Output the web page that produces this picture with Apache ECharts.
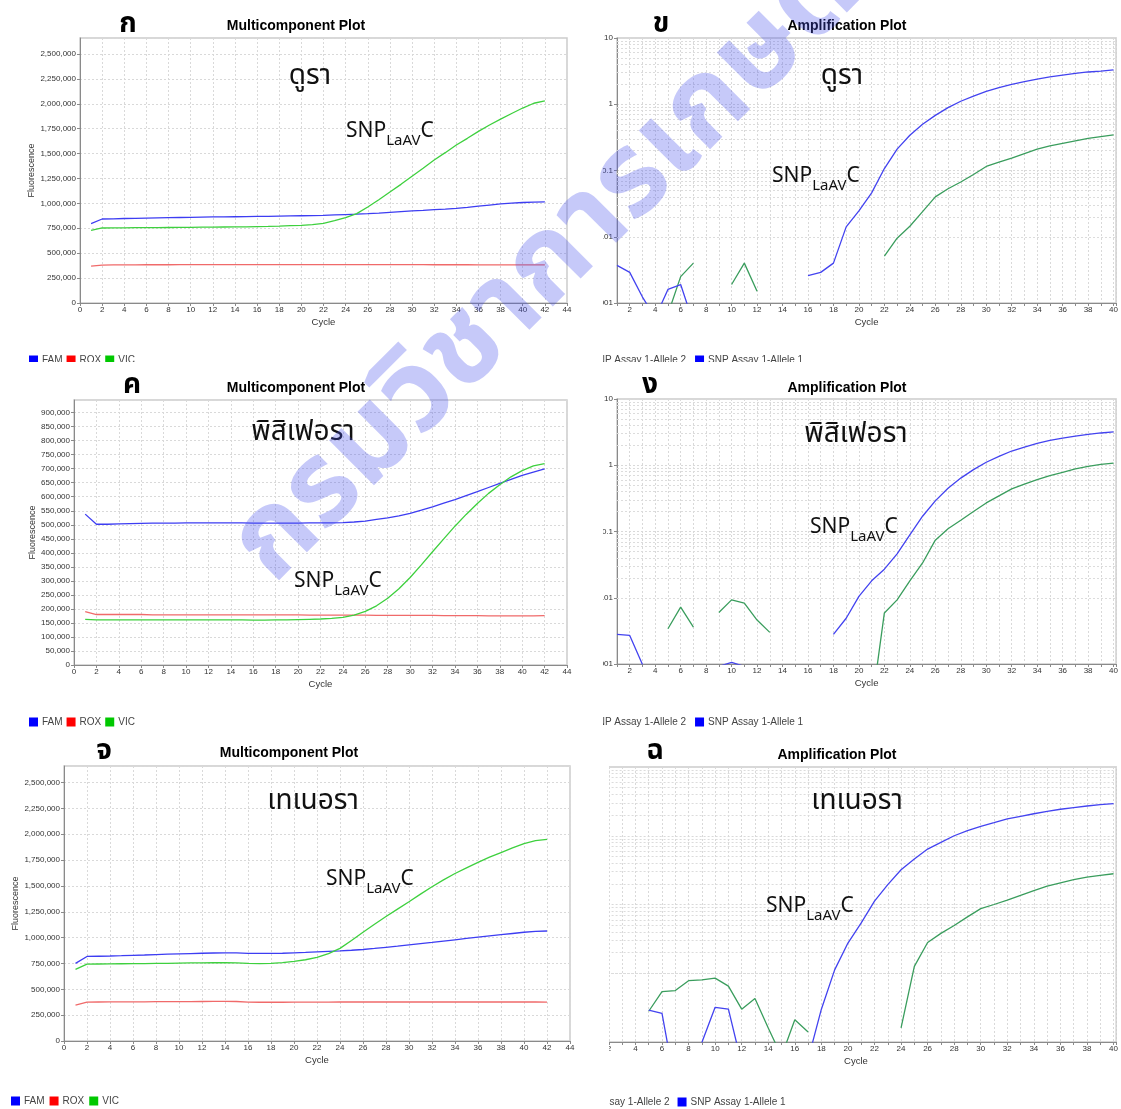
<!DOCTYPE html>
<html><head><meta charset="utf-8">
<script src="https://cdn.jsdelivr.net/npm/echarts@6.0.0/dist/echarts.min.js"></script>
<style>html,body{margin:0;padding:0;background:#fff}#c{width:1121px;height:1109px}</style>
</head><body><div id="c"></div>
<script>
// ---------- data ----------
const mcCycles = [1,2,3,4,5,6,7,8,9,10,11,12,13,14,15,16,17,18,19,20,21,22,23,24,25,26,27,28,29,30,31,32,33,34,35,36,37,38,39,40,41,42];
const ampCycles = [1,2,3,4,5,6,7,8,9,10,11,12,13,14,15,16,17,18,19,20,21,22,23,24,25,26,27,28,29,30,31,32,33,34,35,36,37,38,39,40];
const mcXTicks = [0,2,4,6,8,10,12,14,16,18,20,22,24,26,28,30,32,34,36,38,40,42,44];
const logMajorTicks = [0.001,0.01,0.1,1,10];
const logMinorTicks = [0.002,0.003,0.004,0.005,0.006,0.007,0.008,0.009,
  0.02,0.03,0.04,0.05,0.06,0.07,0.08,0.09,
  0.2,0.3,0.4,0.5,0.6,0.7,0.8,0.9,
  2,3,4,5,6,7,8,9];

// Panel ก (Dura) multicomponent
const famA = [797000,843000,845000,848000,850000,852000,854000,856000,858000,860000,862000,864000,865000,866000,867000,869000,870000,872000,874000,876000,878000,880000,884000,888000,892000,897000,903000,910000,917000,924000,930000,937000,943000,950000,960000,972000,983000,994000,1003000,1009000,1013000,1015000];
const roxA = [371000,381000,382000,383000,383000,384000,384000,384000,385000,385000,385000,386000,
  386000,386000,386000,386000,386000,386000,386000,386000,386000,386000,386000,386000,386000,386000,386000,
  385000,385000,385000,385000,384000,384000,384000,384000,383000,383000,383000,382000,382000,382000,382000];
const vicA = [730000,753000,754000,755000,756000,757000,757000,758000,759000,760000,761000,762000,763000,764000,765000,767000,769000,772000,776000,780000,787000,800000,826000,857000,897000,964000,1037000,1114000,1191000,1272000,1352000,1436000,1509000,1586000,1653000,1723000,1787000,1846000,1902000,1957000,2005000,2030000];

// Panel ค (Pisifera) multicomponent
const famC = [538000,502000,502000,503000,504000,505000,506000,506000,506000,507000,507000,507000,507000,507000,507000,506000,506000,506000,506000,506000,507000,507000,507000,508000,510000,513000,519000,525000,532000,541000,552000,564000,577000,590000,604000,618000,633000,648000,662000,676000,688000,699000];
const roxC = [190000,180000,180000,180000,180000,180000,
  179000,179000,179000,179000,179000,179000,179000,179000,179000,179000,179000,179000,179000,179000,
  178000,178000,178000,178000,178000,178000,
  177000,177000,177000,177000,177000,177000,
  176000,176000,176000,176000,
  175000,175000,175000,175000,175000,176000];
const vicC = [163000,
  161000,161000,161000,161000,161000,161000,161000,161000,161000,161000,161000,161000,161000,161000,
  160000,160000,161000,161000,162000,163000,164000,166000,170000,178000,191000,211000,238000,272000,312000,357000,404000,450000,495000,537000,576000,612000,643000,671000,693000,710000,718000];

// Panel จ (Tenera) multicomponent
const famE = [751000,818000,820000,822000,825000,829000,832000,836000,840000,843000,846000,849000,851000,853000,853000,848000,847000,847000,849000,853000,857000,862000,867000,872000,878000,885000,895000,906000,917000,929000,941000,953000,966000,979000,992000,1004000,1016000,1028000,1040000,1052000,1061000,1064000];
const roxE = [348000,376000,377000,378000,378000,379000,379000,380000,380000,381000,381000,382000,383000,383000,382000,
  376000,375000,375000,375000,376000,376000,376000,376000,
  377000,377000,377000,377000,377000,377000,377000,377000,377000,377000,377000,377000,377000,377000,377000,377000,377000,377000,
  376000];
const vicE = [693000,744000,745000,746000,747000,748000,749000,750000,751000,753000,755000,756000,757000,758000,756000,751000,748000,751000,759000,771000,786000,808000,845000,896000,972000,1052000,1130000,1205000,1276000,1347000,1421000,1492000,1559000,1620000,1675000,1727000,1778000,1823000,1868000,1910000,1939000,1950000];

// Amplification (delta Rn, log) — null = not plotted
const al1B = [0.0037,0.0029,0.00123,0.0006,0.0016,0.0019,0.0005,null,null,null,null,null,null,null,null,
  0.0026,0.0029,0.0040,0.0141,0.0245,0.046,0.107,0.21,0.34,0.50,0.68,0.89,1.11,1.33,1.57,1.78,2.0,2.19,2.4,2.58,2.76,2.93,3.07,3.17,3.3];
const al2B = [null,null,null,null,0.00068,0.0025,0.0040,null,null,0.0019,0.0040,0.0015,
  null,null,null,null,null,null,null,null,null,
  0.0051,0.0095,0.0144,0.024,0.040,0.053,0.067,0.087,0.115,0.134,0.154,0.18,0.21,0.235,0.257,0.28,0.305,0.325,0.345];
const al1D = [0.0028,0.0027,0.00098,null,null,null,null,null,0.00092,0.00106,0.00092,null,null,null,null,null,null,
  0.0028,0.0049,0.0105,0.018,0.027,0.046,0.089,0.17,0.29,0.45,0.64,0.86,1.11,1.36,1.64,1.88,2.14,2.38,2.57,2.76,2.93,3.07,3.18];
const al2D = [null,null,null,null,0.0034,0.0072,0.0036,null,0.0060,0.0093,0.0083,0.0046,0.0030,
  null,null,null,null,null,null,null,
  0.00023,0.0059,0.0093,0.018,0.0335,0.074,0.11,0.148,0.20,0.27,0.345,0.44,0.52,0.605,0.70,0.78,0.88,0.96,1.03,1.08];
const al1F = [null,null,null,null,0.0029,0.0026,0.00023,null,0.00098,0.0032,0.0030,0.00048,null,null,null,null,
  0.00056,0.0030,0.0112,0.0275,0.054,0.112,0.195,0.32,0.46,0.64,0.80,1.0,1.19,1.37,1.55,1.76,1.92,2.09,2.27,2.43,2.57,2.71,2.84,2.93];
const al2F = [null,null,null,null,0.0028,0.0054,0.0056,0.0078,0.0080,0.0085,0.0065,0.0030,0.0043,0.0016,0.00062,0.0021,0.0014,
  null,null,null,null,null,null,
  0.0016,0.0126,0.028,0.038,0.0495,0.066,0.087,0.10,0.116,0.136,0.159,0.185,0.207,0.23,0.25,0.266,0.28];

const mcNames = ['FAM','ROX','VIC'];
const ampNames = ['SNP Assay 1-Allele 2','SNP Assay 1-Allele 1'];
const panelLetters = ['ก','ข','ค','ง','จ','ฉ'];
const sampleNames = ['ดูรา','ดูรา','พิสิเฟอรา','พิสิเฟอรา','เทเนอรา','เทเนอรา'];
const watermarkText = 'กรมวิชาการเกษตร';

// ---------- chart ----------
const BASE = 'Liberation Sans, Arial, sans-serif';
const THAI = 'Noto Sans Thai, Noto Sans Thai UI, Loma, Garuda, Noto Sans, DejaVu Sans, sans-serif';
const LEG = {FAM:'#0000ff', ROX:'#ff0000', VIC:'#00c800', 'SNP Assay 1-Allele 1':'#0000ff', 'SNP Assay 1-Allele 2':'#2e9a57'};
const LINE = {FAM:'#3d3df2', ROX:'#f06a6a', VIC:'#3ed03e', 'SNP Assay 1-Allele 1':'#4343f0', 'SNP Assay 1-Allele 2':'#3a9d5d'};

const pairs = (xs, ys) => xs.map((x, i) => [x, ys[i] == null ? '-' : ys[i]]);

const grids = [
  {left:80, top:38, width:487, height:265},
  {left:617, top:38, width:503.6, height:265},
  {left:74, top:400, width:493, height:265},
  {left:617, top:399, width:503.6, height:265},
  {left:64, top:766, width:506, height:275},
  {left:595.6, top:767, width:525, height:275}
].map(g => Object.assign({show:true, borderColor:'#cccccc', borderWidth:1.5, backgroundColor:'#fff'}, g));

const gridLine = {show:true, lineStyle:{color:'#d9d9d9', type:[2,2], width:1}};
const axLine = {show:true, onZero:false, lineStyle:{color:'#8a8a8a'}};
const axTick = {show:true, length:3, lineStyle:{color:'#8a8a8a'}};
const lbl = {fontSize:8, color:'#333', fontFamily:BASE};
const fmtNum = v => Number(v).toLocaleString('en-US');
const fmtLog = v => String(+Number(v).toPrecision(3));

function mcX(g){ return {type:'value', gridIndex:g, min:mcXTicks[0], max:mcXTicks[mcXTicks.length-1], interval:2,
  name:'Cycle', nameLocation:'middle', nameGap:14, nameTextStyle:{fontSize:9.5,color:'#333',fontFamily:BASE},
  axisLine:axLine, axisTick:axTick, axisLabel:Object.assign({margin:3}, lbl), splitLine:gridLine}; }
function mcY(g, max, interval, gap){ return {type:'value', gridIndex:g, min:0, max:max, interval:interval,
  name:'Fluorescence', nameLocation:'middle', nameGap:gap, nameTextStyle:{fontSize:9,color:'#333',fontFamily:BASE},
  axisLine:axLine, axisTick:axTick, axisLabel:Object.assign({margin:4, formatter:fmtNum, showMaxLabel:false}, lbl), splitLine:gridLine}; }
function ampX(g){ return {type:'value', gridIndex:g, min:1, max:40.2, interval:1,
  name:'Cycle', nameLocation:'middle', nameGap:14, nameTextStyle:{fontSize:9.5,color:'#333',fontFamily:BASE},
  axisLine:axLine, axisTick:axTick, axisLabel:Object.assign({margin:3, formatter: v => (v % 2 === 0 ? String(v) : '')}, lbl), splitLine:gridLine}; }
function ampY(g, showLabels){ return {type:'log', logBase:10, gridIndex:g, min:logMajorTicks[0], max:logMajorTicks[logMajorTicks.length-1], splitNumber:4,
  axisLine:axLine, axisTick:axTick, axisLabel:Object.assign({show:showLabels, margin:4, formatter:fmtLog}, lbl), splitLine:gridLine}; }

function line(name, g, xs, ys, extra){
  return Object.assign({name, type:'line', xAxisIndex:g, yAxisIndex:g, data:pairs(xs, ys), showSymbol:false, symbol:'none',
    clip:true, z:3, lineStyle:{width:1.3, color:LINE[name]}, itemStyle:{color:LEG[name]}, emphasis:{disabled:true}}, extra||{});
}
const minorMark = {silent:true, symbol:'none', animation:false, z:1, label:{show:false},
  lineStyle:{color:'#dcdcdc', type:[2,2], width:1}, emphasis:{disabled:true}, data: logMinorTicks.map(v => ({yAxis:v}))};

const series = [
  line('FAM',0,mcCycles,famA), line('ROX',0,mcCycles,roxA), line('VIC',0,mcCycles,vicA),
  line('SNP Assay 1-Allele 2',1,ampCycles,al2B), line('SNP Assay 1-Allele 1',1,ampCycles,al1B,{markLine:minorMark}),
  line('FAM',2,mcCycles,famC), line('ROX',2,mcCycles,roxC), line('VIC',2,mcCycles,vicC),
  line('SNP Assay 1-Allele 2',3,ampCycles,al2D), line('SNP Assay 1-Allele 1',3,ampCycles,al1D,{markLine:minorMark}),
  line('FAM',4,mcCycles,famE), line('ROX',4,mcCycles,roxE), line('VIC',4,mcCycles,vicE),
  line('SNP Assay 1-Allele 2',5,ampCycles,al2F), line('SNP Assay 1-Allele 1',5,ampCycles,al1F,{markLine:minorMark})
];

function legend(left, top, names, gap){ return {left, top, padding:0, orient:'horizontal', icon:'rect', itemWidth:9, itemHeight:9, itemGap:gap,
  selectedMode:false, textStyle:{fontSize:10, color:'#444', fontFamily:BASE, padding:[0,0,0,-1]},
  data: names.map(n => ({name:n, icon:'rect', itemStyle:{color:LEG[n], borderWidth:0}}))}; }

function T(x, y, text, st){ return {type:'text', x, y, z:20, silent:true,
  style:Object.assign({text, fill:'#000', textAlign:'center', textVerticalAlign:'middle', fontFamily:BASE}, st)}; }
function SNP(x, y){ return {type:'text', x, y, z:20, silent:true,
  style:{text:'{a|SNP}{b|LaAV}{a|C}', textAlign:'left', textVerticalAlign:'middle',
    rich:{a:{fontSize:21, lineHeight:34, fontFamily:'Noto Sans, Open Sans, sans-serif', fill:'#111'},
          b:{fontSize:15, lineHeight:15, verticalAlign:'bottom', fontFamily:'Noto Sans, Open Sans, sans-serif', fill:'#111'}}}}; }

const graphic = [
  T(296,26,'Multicomponent Plot',{fontSize:14,fontWeight:'bold'}),
  T(847,26,'Amplification Plot',{fontSize:14,fontWeight:'bold'}),
  T(296,388,'Multicomponent Plot',{fontSize:14,fontWeight:'bold'}),
  T(847,388,'Amplification Plot',{fontSize:14,fontWeight:'bold'}),
  T(289,753,'Multicomponent Plot',{fontSize:14,fontWeight:'bold'}),
  T(837,755,'Amplification Plot',{fontSize:14,fontWeight:'bold'}),
  T(128,26,panelLetters[0],{fontSize:28,fontWeight:'bold',fontFamily:THAI}),
  T(661,26,panelLetters[1],{fontSize:28,fontWeight:'bold',fontFamily:THAI}),
  T(132,387,panelLetters[2],{fontSize:28,fontWeight:'bold',fontFamily:THAI}),
  T(650,387,panelLetters[3],{fontSize:28,fontWeight:'bold',fontFamily:THAI}),
  T(104,753,panelLetters[4],{fontSize:28,fontWeight:'bold',fontFamily:THAI}),
  T(655,753,panelLetters[5],{fontSize:28,fontWeight:'bold',fontFamily:THAI}),
  T(310,78,sampleNames[0],{fontSize:28,fontFamily:THAI,fill:'#111'}),
  T(842,78,sampleNames[1],{fontSize:28,fontFamily:THAI,fill:'#111'}),
  T(303,434,sampleNames[2],{fontSize:28,fontFamily:THAI,fill:'#111'}),
  T(856,436,sampleNames[3],{fontSize:28,fontFamily:THAI,fill:'#111'}),
  T(313,803,sampleNames[4],{fontSize:28,fontFamily:THAI,fill:'#111'}),
  T(857,803,sampleNames[5],{fontSize:28,fontFamily:THAI,fill:'#111'}),
  SNP(346,131), SNP(772,176), SNP(294,581), SNP(810,527), SNP(326,879), SNP(766,906),
  // crop edges of the original screenshot
  {type:'rect', z:50, silent:true, shape:{x:572, y:0, width:31, height:730}, style:{fill:'#fff'}},
  {type:'rect', z:50, silent:true, shape:{x:575, y:730, width:34, height:379}, style:{fill:'#fff'}},
  {type:'rect', z:50, silent:true, shape:{x:520, y:1085, width:89, height:24}, style:{fill:'#fff'}},
  {type:'rect', z:50, silent:true, shape:{x:0, y:362, width:1121, height:11}, style:{fill:'#fff'}},
  // watermark
  {type:'text', x:574, y:252, rotation:Math.PI/4, z:100, silent:true,
    style:{text:watermarkText, fontSize:116, fontWeight:'bold', fontFamily:THAI, fill:'rgba(70,80,235,0.31)', textAlign:'center', textVerticalAlign:'middle'}}
];

const chart = echarts.init(document.getElementById('c'), null, {renderer:'canvas'});
chart.setOption({
  animation:false,
  backgroundColor:'#fff',
  textStyle:{fontFamily:BASE},
  grid:grids,
  xAxis:[mcX(0), ampX(1), mcX(2), ampX(3), mcX(4), ampX(5)],
  yAxis:[mcY(0,2660000,250000,42), ampY(1,true), mcY(2,945000,50000,36), ampY(3,true), mcY(4,2660000,250000,44), ampY(5,false)],
  legend:[legend(29,355,mcNames,4), legend(578,355,ampNames,9), legend(29,717,mcNames,4), legend(578,717,ampNames,9),
          legend(11,1096,mcNames,5), legend(561.5,1097,ampNames,8)],
  series:series,
  graphic:graphic
});
</script></body></html>
